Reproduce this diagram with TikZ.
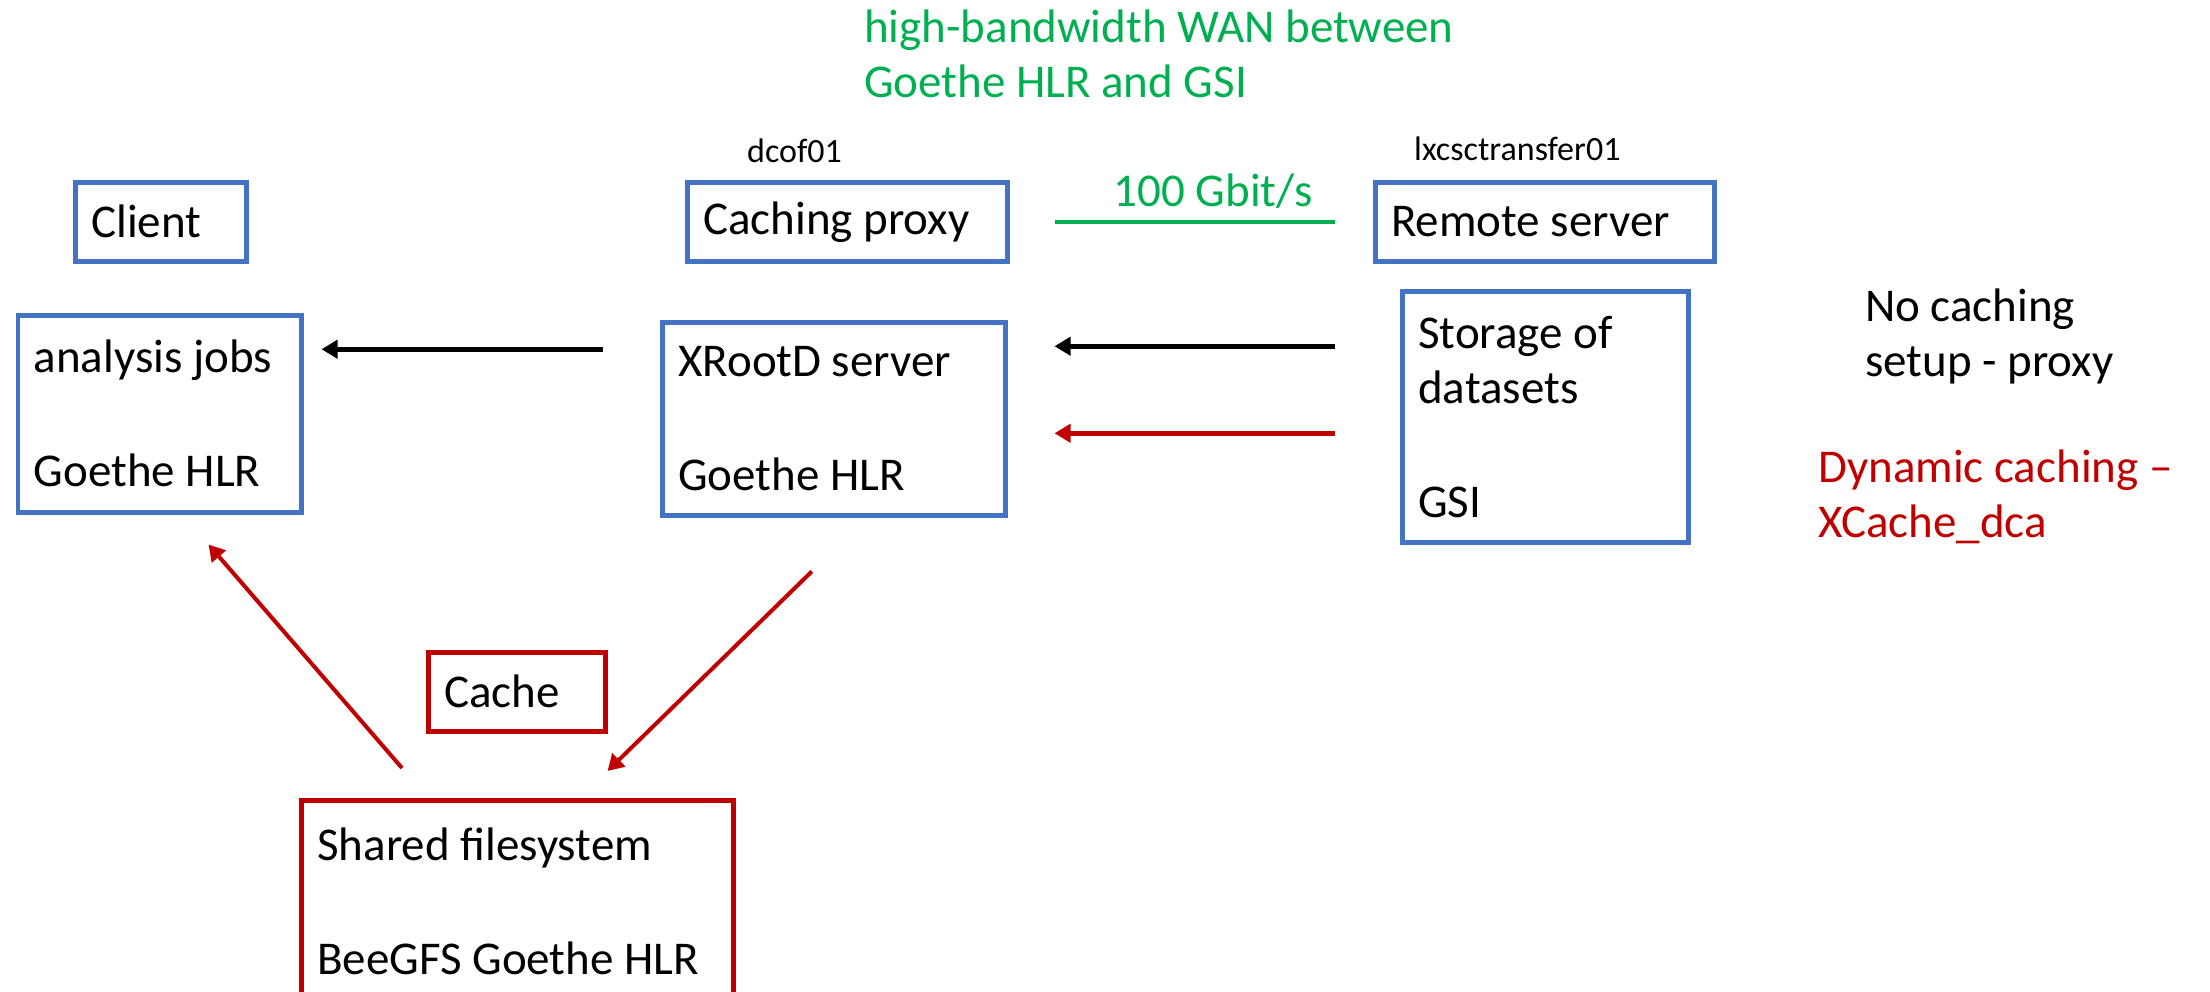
\documentclass[tikz,border=0pt]{standalone}
\usepackage{fontspec}
\setmainfont{Carlito}
\usepackage{tikz}
\usetikzlibrary{positioning, arrows.meta, calc}

\definecolor{boxblue}{HTML}{4472C4}
\definecolor{cachered}{HTML}{C00000}
\definecolor{wangreen}{HTML}{00B050}

\newcommand{\bigtxt}{\fontsize{47pt}{55pt}\selectfont}
\newcommand{\smalltxt}{\fontsize{34pt}{40pt}\selectfont}

\tikzset{
  box/.style={rectangle, draw, line width=4.5pt, align=flush left, inner xsep=16pt, inner ysep=0pt, anchor=north west, font=\bigtxt},
  bluebox/.style={box, draw=boxblue},
  redbox/.style={box, draw=cachered},
  plaintxt/.style={anchor=west, align=left, inner sep=0pt, font=\bigtxt},
  hostname/.style={anchor=west, inner sep=0pt, font=\smalltxt},
  blackarr/.style={line width=4.5pt, -{Triangle[length=16pt, width=18pt]}},
  redarr/.style={blackarr, draw=cachered, fill=cachered},
  wanline/.style={line width=4pt, draw=wangreen}
}

\begin{document}
\begin{tikzpicture}[x=1pt, y=-1pt]
  \useasboundingbox (0,0) rectangle (2210,991);

  % WAN note and host names
  \node[plaintxt, text=wangreen] (wan) at (864,54) {high-bandwidth WAN between\\Goethe HLR and GSI};
  \node[hostname] (dcof) at (747,151) {dcof01};
  \node[hostname] (lxcs) at (1414,149) {lxcsctransfer01};

  % Top row: roles
  \node[bluebox, text width=139pt, minimum height=79pt] (client) at (73,180) {Client};
  \node[bluebox, text width=288pt, minimum height=79pt] (proxy) at (685,180) {Caching proxy};
  \node[bluebox, text width=307pt, minimum height=79pt] (remote) at (1373,180) {Remote server};

  % Middle row: machines
  \node[bluebox, text width=251.5pt, minimum height=197pt] (jobs) at (15.5,313) {analysis jobs\\[59pt]Goethe HLR};
  \node[bluebox, text width=311pt, minimum height=193pt] (xrootd) at (660,320) {XRootD server\\[59pt]Goethe HLR};
  \node[bluebox, text width=254pt, minimum height=251pt] (storage) at (1400,289) {Storage of\\datasets\\[59pt]GSI};

  % Cache
  \node[redbox, text width=145pt, minimum height=79pt] (cache) at (426,650) {Cache};
  \node[redbox, text width=400pt, minimum height=202pt] (shared) at (299,798) {Shared filesystem\\[59pt]BeeGFS Goethe HLR};

  % Legend
  \node[plaintxt] (nocache) at (1865,336) {No caching\\setup - proxy};
  \node[plaintxt, text=cachered] (dca) at (1818,497) {Dynamic caching –\\XCache\_dca};

  % WAN link
  \draw[wanline, shorten <=38pt, shorten >=45pt] (remote.west) -- node[above, pos=0.44, inner sep=11pt, font=\bigtxt, text=wangreen] (rate) {100 Gbit/s} (proxy.east);

  % Data flow without cache
  \draw[blackarr, shorten <=57pt, shorten >=18pt] ($(xrootd.west)+(0,-69.5)$) -- ($(jobs.east |- xrootd.west)+(0,-69.5)$);
  \draw[blackarr, shorten <=65pt, shorten >=47pt] ($(storage.west)+(0,-70.5)$) -- ($(xrootd.east |- storage.west)+(0,-70.5)$);

  % Data flow with cache
  \draw[redarr, shorten <=65pt, shorten >=47pt] ($(storage.west)+(0,16.5)$) -- ($(xrootd.east |- storage.west)+(0,16.5)$);
  \draw[redarr, line width=4pt] ([xshift=-22pt, yshift=-54pt]xrootd.south) -- ([xshift=-128pt, yshift=27pt]shared.north east);
  \draw[redarr, line width=4pt] ([xshift=103pt, yshift=30pt]shared.north west) -- ([xshift=-95pt, yshift=-30pt]jobs.south east);
\end{tikzpicture}
\end{document}
